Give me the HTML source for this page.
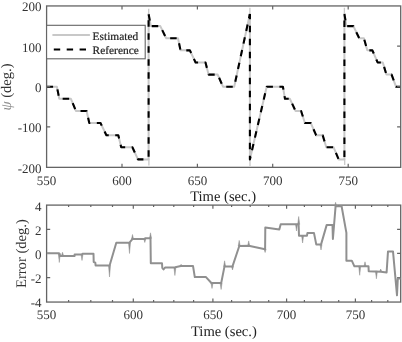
<!DOCTYPE html><html><head><meta charset="utf-8"><style>html,body{margin:0;padding:0;background:#fff;}svg{display:block;will-change:transform;}text{font-family:"Liberation Serif", serif;text-rendering:geometricPrecision;}</style></head><body>
<svg width="402" height="342" viewBox="0 0 402 342">
<rect width="402" height="342" fill="#fff"/>
<defs><clipPath id="ct"><rect x="46.6" y="3.95" width="354.1" height="165.4"/></clipPath>
<clipPath id="cb"><rect x="46.6" y="201.1" width="354.1" height="102.95"/></clipPath></defs>
<g clip-path="url(#ct)" fill="none" stroke-linejoin="round">
<polyline points="46.6,86.7 56.9,86.7 59.3,98.82 70.9,98.82 75.9,110.94 86.6,110.94 89.3,123.06 100.5,123.06 106.4,135.18 118.3,135.18 121.2,147.3 132.4,147.3 138,159.42 148.6,159.42 148.6,13.98 150.8,26.1 160.3,26.1 166.2,38.22 178,38.22 180.5,50.34 189.9,50.34 195.6,62.46 205.5,62.46 208.6,74.58 217.7,74.58 223,86.7 234.2,86.7 249.9,13.98 249.9,159.42 266.7,86.7 282.9,86.7 285,98.82 289.9,98.82 295.5,110.94 301.1,110.94 304.9,123.06 310.8,123.06 316.1,135.18 322.7,135.18 326.3,147.3 333.6,147.3 338.7,159.42 344.4,159.42 344.4,13.98 346.4,26.1 353.4,26.1 359.2,38.22 363.9,38.22 367.3,50.34 372.4,50.34 377.6,62.46 382.8,62.46 386.4,74.58 391.6,74.58 396,86.7 400.7,86.7" stroke="#c8c8c8" stroke-width="2"/>
<line x1="148.9" y1="159.3" x2="148.9" y2="165.5" stroke="#c8c8c8" stroke-width="1.3"/>
<line x1="148.7" y1="14" x2="148.7" y2="8.8" stroke="#c8c8c8" stroke-width="1.3"/>
<line x1="249.9" y1="14" x2="249.9" y2="7.8" stroke="#c8c8c8" stroke-width="1.3"/>
<line x1="250" y1="159.3" x2="250" y2="166" stroke="#c8c8c8" stroke-width="1.3"/>
<line x1="344.7" y1="159.3" x2="344.7" y2="165" stroke="#c8c8c8" stroke-width="1.3"/>
<line x1="344.4" y1="14" x2="344.4" y2="7.8" stroke="#c8c8c8" stroke-width="1.3"/>
<polyline points="46.6,86.7 56.9,86.7 59.3,98.82 70.9,98.82 75.9,110.94 86.6,110.94 89.3,123.06 100.5,123.06 106.4,135.18 118.3,135.18 121.2,147.3 132.4,147.3 138,159.42 148.6,159.42" stroke="#000" stroke-width="2.1" stroke-dasharray="6.5 6.5" stroke-dashoffset="0"/>
<polyline points="148.6,159.42 148.6,13.98 150.8,26.1 160.3,26.1 166.2,38.22 178,38.22 180.5,50.34 189.9,50.34 195.6,62.46 205.5,62.46 208.6,74.58 217.7,74.58 223,86.7 234.2,86.7 249.9,13.98" stroke="#000" stroke-width="2.1" stroke-dasharray="6.5 6.5" stroke-dashoffset="10.3"/>
<polyline points="249.9,13.98 249.9,159.42 266.7,86.7 282.9,86.7 285,98.82 289.9,98.82 295.5,110.94 301.1,110.94 304.9,123.06 310.8,123.06 316.1,135.18 322.7,135.18 326.3,147.3 333.6,147.3 338.7,159.42 344.4,159.42" stroke="#000" stroke-width="2.1" stroke-dasharray="6.5 6.5" stroke-dashoffset="1.2"/>
<polyline points="344.4,159.42 344.4,13.98 346.4,26.1 353.4,26.1 359.2,38.22 363.9,38.22 367.3,50.34 372.4,50.34 377.6,62.46 382.8,62.46 386.4,74.58 391.6,74.58 396,86.7 400.7,86.7" stroke="#000" stroke-width="2.1" stroke-dasharray="6.5 6.5" stroke-dashoffset="10.5"/>
</g>
<rect x="46.6" y="5.95" width="354.1" height="161.4" fill="none" stroke="#646464" stroke-width="1.3"/>
<path d="M122 5.95v3.6M122 167.35v-3.6M197.4 5.95v3.6M197.4 167.35v-3.6M272.7 5.95v3.6M272.7 167.35v-3.6M348.2 5.95v3.6M348.2 167.35v-3.6M46.6 46.2h3.6M400.7 46.2h-3.6M46.6 86.5h3.6M400.7 86.5h-3.6M46.6 126.8h3.6M400.7 126.8h-3.6" stroke="#646464" stroke-width="1.2" fill="none"/>
<rect x="46.6" y="25.3" width="98.6" height="33.5" fill="#fff" stroke="#646464" stroke-width="1.1"/>
<line x1="52.4" y1="35.1" x2="89.9" y2="35.1" stroke="#c8c8c8" stroke-width="2"/>
<line x1="53.8" y1="49.5" x2="86.2" y2="49.5" stroke="#000" stroke-width="2.1" stroke-dasharray="6.4 6.5"/>
<text x="92.6" y="39.8" font-size="11.4" fill="#222" stroke="#222" stroke-width="0.2">Estimated</text>
<text x="92.6" y="53.9" font-size="11.4" fill="#222" stroke="#222" stroke-width="0.2">Reference</text>
<text x="46.6" y="184.5" font-size="13" fill="#333" text-anchor="middle">550</text>
<text x="122" y="184.5" font-size="13" fill="#333" text-anchor="middle">600</text>
<text x="197.4" y="184.5" font-size="13" fill="#333" text-anchor="middle">650</text>
<text x="272.7" y="184.5" font-size="13" fill="#333" text-anchor="middle">700</text>
<text x="348.2" y="184.5" font-size="13" fill="#333" text-anchor="middle">750</text>
<text x="41.6" y="11.35" font-size="13" fill="#333" text-anchor="end">200</text>
<text x="41.6" y="51.6" font-size="13" fill="#333" text-anchor="end">100</text>
<text x="41.6" y="91.9" font-size="13" fill="#333" text-anchor="end">0</text>
<text x="41.6" y="132.2" font-size="13" fill="#333" text-anchor="end">-100</text>
<text x="41.6" y="172.5" font-size="13" fill="#333" text-anchor="end">-200</text>
<text x="223.1" y="201" font-size="14.6" fill="#222" text-anchor="middle">Time (sec.)</text>
<text transform="translate(11.2,87) rotate(-90)" font-size="14.6" fill="#333" text-anchor="middle"><tspan font-style="italic" fill="#888">&#968;</tspan> (deg.)</text>
<rect x="46.6" y="205.1" width="354.1" height="96.95" fill="none" stroke="#646464" stroke-width="1.3"/>
<path d="M133.3 205.1v3.6M133.3 302.05v-3.6M212.9 205.1v3.6M212.9 302.05v-3.6M286.6 205.1v3.6M286.6 302.05v-3.6M355.4 205.1v3.6M355.4 302.05v-3.6M68.6 205.1v2M68.6 302.05v-2M90.8 205.1v2M90.8 302.05v-2M112.5 205.1v2M112.5 302.05v-2M153.6 205.1v2M153.6 302.05v-2M173.8 205.1v2M173.8 302.05v-2M193.6 205.1v2M193.6 302.05v-2M231.6 205.1v2M231.6 302.05v-2M250.2 205.1v2M250.2 302.05v-2M268.7 205.1v2M268.7 302.05v-2M304.4 205.1v2M304.4 302.05v-2M321.5 205.1v2M321.5 302.05v-2M338.7 205.1v2M338.7 302.05v-2M371.6 205.1v2M371.6 302.05v-2M387.8 205.1v2M387.8 302.05v-2M46.6 229.3h3.6M400.7 229.3h-3.6M46.6 253.45h3.6M400.7 253.45h-3.6M46.6 277.6h3.6M400.7 277.6h-3.6" stroke="#646464" stroke-width="1.2" fill="none"/>
<g clip-path="url(#cb)" fill="none" stroke-linejoin="round">
<polyline points="46.6,253.3 59.1,253.3 60.2,256 74.6,256 74.6,254.5 81.8,254.5 82.4,253.8 93.5,253.8 93.7,262 95.3,262.6 95.6,265.5 109.6,265.5 116.3,242.7 129.5,242.7 132.6,238.9 144.8,238.9 145.1,238.3 150.5,238.3 150.8,263.3 162,263.3 162.3,268 163.5,269.5 165,267.6 174.9,267.6 175.2,267.2 180.8,266 181.5,265.9 193,265.9 194.8,277.1 206,277.1 211.4,283 221.2,283 224.5,266.4 232.5,266.4 239.3,246 248.7,245.7 265.1,249.2 265.3,227.5 279.3,229.6 280.7,224.3 298.6,224.3 299,235.7 307,235.7 307.4,233.1 314,233.1 316.3,244.6 321,244.6 326.7,224.9 332.5,224.9 332.9,239 335.6,206.2 341.6,206.2 346.4,232.9 346.4,260.7 351.8,260.7 354.4,266.3 368.5,266.3 368.7,271.2 381,271.8 386.6,272.5 388,251.4 393,251.4 397,295.3 397.8,278.6 400.7,278.6" stroke="#909090" stroke-width="2"/>
</g><g clip-path="url(#cb)"><path d="M58.3 253.5L60.3 253.5L59.3 262.5ZM61.5 255.5L63.5 255.5L62.5 252.2ZM81 254.3L83 254.3L82 260.5ZM108.5 265.5L110.5 265.5L109.5 277ZM128.5 242.7L130.5 242.7L129.5 253.5ZM131.5 239L133.5 239L132.5 234.5ZM143.8 238.9L145.8 238.9L144.8 242.5ZM149.5 238.3L151.5 238.3L150.5 232.8ZM173.9 267.5L175.9 267.5L174.9 275.5ZM180.1 265.9L182.1 265.9L181.1 264.3ZM211 283L213 283L212 288.5ZM220.1 283L222.1 283L221.1 289.5ZM223.6 266.4L225.6 266.4L224.6 260.8ZM231.5 266.4L233.5 266.4L232.5 270ZM238.2 246L240.2 246L239.2 240.4ZM247.7 245.7L249.7 245.7L248.7 240.9ZM264.1 249L266.1 249L265.1 252.5ZM295.5 224.3L297.5 224.3L296.5 231ZM297.7 224.3L299.7 224.3L298.7 216.5ZM301.6 235.7L303.6 235.7L302.6 243ZM320 244.6L322 244.6L321 250ZM334.6 206L336.6 206L335.6 202.3ZM358.7 266.3L360.7 266.3L359.7 275.3ZM364 266.3L366 266.3L365 261.8ZM375.4 271.2L377.4 271.2L376.4 278.8ZM379.7 271.5L381.7 271.5L380.7 269Z" fill="#909090" stroke="#909090" stroke-width="0.5" stroke-linejoin="miter"/>
</g>
<text x="46.6" y="319.3" font-size="13" fill="#333" text-anchor="middle">550</text>
<text x="133.3" y="319.3" font-size="13" fill="#333" text-anchor="middle">600</text>
<text x="212.9" y="319.3" font-size="13" fill="#333" text-anchor="middle">650</text>
<text x="286.6" y="319.3" font-size="13" fill="#333" text-anchor="middle">700</text>
<text x="355.4" y="319.3" font-size="13" fill="#333" text-anchor="middle">750</text>
<text x="41.6" y="210.5" font-size="13" fill="#333" text-anchor="end">4</text>
<text x="41.6" y="234.7" font-size="13" fill="#333" text-anchor="end">2</text>
<text x="41.6" y="258.85" font-size="13" fill="#333" text-anchor="end">0</text>
<text x="41.6" y="283" font-size="13" fill="#333" text-anchor="end">-2</text>
<text x="41.6" y="307.25" font-size="13" fill="#333" text-anchor="end">-4</text>
<text x="223.9" y="335.6" font-size="14.6" fill="#222" text-anchor="middle">Time (sec.)</text>
<text transform="translate(26.2,253.6) rotate(-90)" font-size="14.6" fill="#333" text-anchor="middle">Error (deg.)</text>
</svg></body></html>
